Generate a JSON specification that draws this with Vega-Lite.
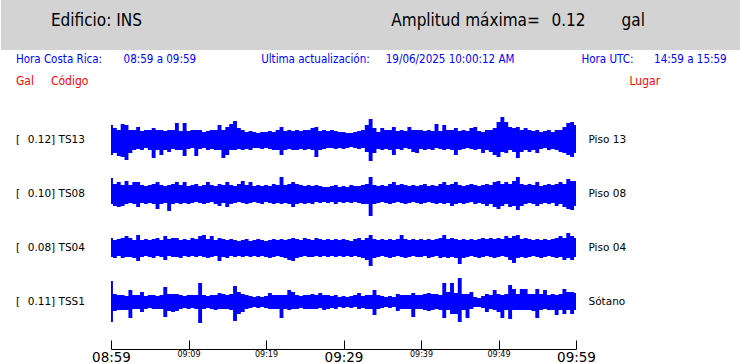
{
"$schema": "https://vega.github.io/schema/vega-lite/v6.json",
"padding": 0,
"background": "white",
"spacing": 0,
"bounds": "flush",
"config": {"view": {"stroke": null}, "text": {"font": "DejaVu Sans", "color": "#000000"}},
"resolve": {"scale": {"x": "independent", "y": "independent"}},
"datasets": {
"TS13": [
{"t":0,"h":15,"l":-15},{"t":0.5,"h":12,"l":-13},{"t":1,"h":10,"l":-16},{"t":1.5,"h":16,"l":-17},{"t":2,"h":15,"l":-20},{"t":2.5,"h":10,"l":-13},{"t":3,"h":10,"l":-10},{"t":3.5,"h":13,"l":-9},{"t":4,"h":9,"l":-10},{"t":4.5,"h":10,"l":-8},
{"t":5,"h":10,"l":-10},{"t":5.5,"h":12,"l":-18},{"t":6,"h":10,"l":-10},{"t":6.5,"h":10,"l":-15},{"t":7,"h":9,"l":-10},{"t":7.5,"h":10,"l":-12},{"t":8,"h":10,"l":-9},{"t":8.5,"h":17,"l":-10},{"t":9,"h":9,"l":-10},{"t":9.5,"h":17,"l":-16},
{"t":10,"h":9,"l":-9},{"t":10.5,"h":10,"l":-8},{"t":11,"h":10,"l":-16},{"t":11.5,"h":10,"l":-9},{"t":12,"h":8,"l":-8},{"t":12.5,"h":9,"l":-10},{"t":13,"h":10,"l":-9},{"t":13.5,"h":10,"l":-10},{"t":14,"h":15,"l":-10},{"t":14.5,"h":10,"l":-18},
{"t":15,"h":13,"l":-15},{"t":15.5,"h":16,"l":-10},{"t":16,"h":19,"l":-10},{"t":16.5,"h":12,"l":-9},{"t":17,"h":10,"l":-10},{"t":17.5,"h":8,"l":-9},{"t":18,"h":9,"l":-10},{"t":18.5,"h":8,"l":-8},{"t":19,"h":7,"l":-8},{"t":19.5,"h":8,"l":-9},
{"t":20,"h":8,"l":-8},{"t":20.5,"h":9,"l":-9},{"t":21,"h":8,"l":-10},{"t":21.5,"h":10,"l":-10},{"t":22,"h":13,"l":-15},{"t":22.5,"h":9,"l":-10},{"t":23,"h":10,"l":-9},{"t":23.5,"h":9,"l":-10},{"t":24,"h":10,"l":-10},{"t":24.5,"h":9,"l":-9},
{"t":25,"h":10,"l":-10},{"t":25.5,"h":10,"l":-9},{"t":26,"h":12,"l":-10},{"t":26.5,"h":13,"l":-17},{"t":27,"h":9,"l":-10},{"t":27.5,"h":10,"l":-9},{"t":28,"h":9,"l":-8},{"t":28.5,"h":10,"l":-8},{"t":29,"h":9,"l":-9},{"t":29.5,"h":8,"l":-8},
{"t":30,"h":8,"l":-9},{"t":30.5,"h":7,"l":-8},{"t":31,"h":7,"l":-7},{"t":31.5,"h":8,"l":-8},{"t":32,"h":9,"l":-9},{"t":32.5,"h":10,"l":-8},{"t":33,"h":15,"l":-12},{"t":33.5,"h":21,"l":-21},{"t":34,"h":12,"l":-13},{"t":34.5,"h":8,"l":-9},
{"t":35,"h":12,"l":-10},{"t":35.5,"h":10,"l":-9},{"t":36,"h":10,"l":-10},{"t":36.5,"h":13,"l":-15},{"t":37,"h":9,"l":-9},{"t":37.5,"h":10,"l":-10},{"t":38,"h":9,"l":-8},{"t":38.5,"h":13,"l":-9},{"t":39,"h":10,"l":-12},{"t":39.5,"h":10,"l":-13},
{"t":40,"h":10,"l":-9},{"t":40.5,"h":9,"l":-10},{"t":41,"h":10,"l":-9},{"t":41.5,"h":9,"l":-10},{"t":42,"h":16,"l":-8},{"t":42.5,"h":9,"l":-9},{"t":43,"h":15,"l":-10},{"t":43.5,"h":10,"l":-9},{"t":44,"h":10,"l":-10},{"t":44.5,"h":12,"l":-15},
{"t":45,"h":9,"l":-10},{"t":45.5,"h":10,"l":-9},{"t":46,"h":9,"l":-8},{"t":46.5,"h":12,"l":-9},{"t":47,"h":13,"l":-10},{"t":47.5,"h":9,"l":-9},{"t":48,"h":8,"l":-13},{"t":48.5,"h":10,"l":-10},{"t":49,"h":10,"l":-12},{"t":49.5,"h":12,"l":-15},
{"t":50,"h":18,"l":-17},{"t":50.5,"h":23,"l":-12},{"t":51,"h":18,"l":-13},{"t":51.5,"h":13,"l":-10},{"t":52,"h":12,"l":-12},{"t":52.5,"h":13,"l":-18},{"t":53,"h":10,"l":-12},{"t":53.5,"h":12,"l":-10},{"t":54,"h":10,"l":-12},{"t":54.5,"h":9,"l":-10},
{"t":55,"h":10,"l":-13},{"t":55.5,"h":8,"l":-9},{"t":56,"h":9,"l":-8},{"t":56.5,"h":10,"l":-10},{"t":57,"h":8,"l":-9},{"t":57.5,"h":10,"l":-10},{"t":58,"h":10,"l":-12},{"t":58.5,"h":13,"l":-13},{"t":59,"h":17,"l":-15},{"t":59.5,"h":18,"l":-17},
{"t":60,"h":15,"l":-13}
],
"TS08": [
{"t":0,"h":16,"l":-10},{"t":0.5,"h":10,"l":-12},{"t":1,"h":12,"l":-13},{"t":1.5,"h":9,"l":-12},{"t":2,"h":13,"l":-10},{"t":2.5,"h":9,"l":-9},{"t":3,"h":12,"l":-10},{"t":3.5,"h":12,"l":-13},{"t":4,"h":9,"l":-9},{"t":4.5,"h":8,"l":-10},
{"t":5,"h":9,"l":-9},{"t":5.5,"h":10,"l":-10},{"t":6,"h":12,"l":-15},{"t":6.5,"h":9,"l":-10},{"t":7,"h":8,"l":-9},{"t":7.5,"h":9,"l":-17},{"t":8,"h":10,"l":-10},{"t":8.5,"h":12,"l":-9},{"t":9,"h":9,"l":-10},{"t":9.5,"h":12,"l":-9},
{"t":10,"h":8,"l":-10},{"t":10.5,"h":9,"l":-9},{"t":11,"h":10,"l":-8},{"t":11.5,"h":8,"l":-9},{"t":12,"h":9,"l":-10},{"t":12.5,"h":12,"l":-9},{"t":13,"h":9,"l":-8},{"t":13.5,"h":8,"l":-10},{"t":14,"h":10,"l":-12},{"t":14.5,"h":9,"l":-9},
{"t":15,"h":12,"l":-13},{"t":15.5,"h":9,"l":-10},{"t":16,"h":8,"l":-9},{"t":16.5,"h":10,"l":-8},{"t":17,"h":13,"l":-9},{"t":17.5,"h":9,"l":-10},{"t":18,"h":12,"l":-9},{"t":18.5,"h":8,"l":-8},{"t":19,"h":9,"l":-9},{"t":19.5,"h":8,"l":-10},
{"t":20,"h":9,"l":-8},{"t":20.5,"h":8,"l":-9},{"t":21,"h":10,"l":-10},{"t":21.5,"h":9,"l":-9},{"t":22,"h":17,"l":-10},{"t":22.5,"h":9,"l":-9},{"t":23,"h":10,"l":-10},{"t":23.5,"h":12,"l":-13},{"t":24,"h":10,"l":-10},{"t":24.5,"h":9,"l":-9},
{"t":25,"h":8,"l":-10},{"t":25.5,"h":9,"l":-9},{"t":26,"h":8,"l":-10},{"t":26.5,"h":9,"l":-8},{"t":27,"h":8,"l":-9},{"t":27.5,"h":7,"l":-8},{"t":28,"h":7,"l":-9},{"t":28.5,"h":8,"l":-8},{"t":29,"h":9,"l":-10},{"t":29.5,"h":7,"l":-8},
{"t":30,"h":8,"l":-9},{"t":30.5,"h":7,"l":-8},{"t":31,"h":9,"l":-9},{"t":31.5,"h":8,"l":-8},{"t":32,"h":8,"l":-9},{"t":32.5,"h":9,"l":-10},{"t":33,"h":10,"l":-10},{"t":33.5,"h":17,"l":-22},{"t":34,"h":9,"l":-10},{"t":34.5,"h":8,"l":-9},
{"t":35,"h":9,"l":-8},{"t":35.5,"h":8,"l":-9},{"t":36,"h":10,"l":-10},{"t":36.5,"h":12,"l":-9},{"t":37,"h":9,"l":-8},{"t":37.5,"h":10,"l":-9},{"t":38,"h":9,"l":-10},{"t":38.5,"h":8,"l":-9},{"t":39,"h":9,"l":-8},{"t":39.5,"h":8,"l":-9},
{"t":40,"h":9,"l":-10},{"t":40.5,"h":10,"l":-9},{"t":41,"h":8,"l":-8},{"t":41.5,"h":9,"l":-9},{"t":42,"h":8,"l":-10},{"t":42.5,"h":10,"l":-9},{"t":43,"h":12,"l":-10},{"t":43.5,"h":9,"l":-9},{"t":44,"h":10,"l":-12},{"t":44.5,"h":12,"l":-10},
{"t":45,"h":9,"l":-9},{"t":45.5,"h":8,"l":-10},{"t":46,"h":9,"l":-9},{"t":46.5,"h":10,"l":-8},{"t":47,"h":9,"l":-10},{"t":47.5,"h":8,"l":-9},{"t":48,"h":9,"l":-10},{"t":48.5,"h":10,"l":-12},{"t":49,"h":9,"l":-10},{"t":49.5,"h":12,"l":-13},
{"t":50,"h":13,"l":-15},{"t":50.5,"h":10,"l":-12},{"t":51,"h":12,"l":-10},{"t":51.5,"h":10,"l":-13},{"t":52,"h":13,"l":-12},{"t":52.5,"h":17,"l":-16},{"t":53,"h":10,"l":-12},{"t":53.5,"h":9,"l":-10},{"t":54,"h":10,"l":-9},{"t":54.5,"h":9,"l":-10},
{"t":55,"h":12,"l":-12},{"t":55.5,"h":8,"l":-10},{"t":56,"h":9,"l":-9},{"t":56.5,"h":10,"l":-10},{"t":57,"h":9,"l":-9},{"t":57.5,"h":10,"l":-12},{"t":58,"h":12,"l":-10},{"t":58.5,"h":10,"l":-13},{"t":59,"h":15,"l":-15},{"t":59.5,"h":13,"l":-16},
{"t":60,"h":13,"l":-12}
],
"TS04": [
{"t":0,"h":10,"l":-9},{"t":0.5,"h":8,"l":-10},{"t":1,"h":9,"l":-8},{"t":1.5,"h":10,"l":-10},{"t":2,"h":12,"l":-9},{"t":2.5,"h":10,"l":-9},{"t":3,"h":8,"l":-10},{"t":3.5,"h":13,"l":-13},{"t":4,"h":8,"l":-9},{"t":4.5,"h":9,"l":-8},
{"t":5,"h":8,"l":-9},{"t":5.5,"h":9,"l":-10},{"t":6,"h":10,"l":-8},{"t":6.5,"h":8,"l":-9},{"t":7,"h":12,"l":-12},{"t":7.5,"h":9,"l":-8},{"t":8,"h":10,"l":-9},{"t":8.5,"h":10,"l":-9},{"t":9,"h":8,"l":-10},{"t":9.5,"h":9,"l":-8},
{"t":10,"h":8,"l":-9},{"t":10.5,"h":10,"l":-8},{"t":11,"h":9,"l":-9},{"t":11.5,"h":12,"l":-8},{"t":12,"h":13,"l":-9},{"t":12.5,"h":9,"l":-10},{"t":13,"h":12,"l":-9},{"t":13.5,"h":8,"l":-8},{"t":14,"h":10,"l":-13},{"t":14.5,"h":9,"l":-9},
{"t":15,"h":8,"l":-10},{"t":15.5,"h":9,"l":-8},{"t":16,"h":8,"l":-9},{"t":16.5,"h":7,"l":-8},{"t":17,"h":8,"l":-9},{"t":17.5,"h":9,"l":-8},{"t":18,"h":7,"l":-9},{"t":18.5,"h":8,"l":-8},{"t":19,"h":9,"l":-9},{"t":19.5,"h":8,"l":-8},
{"t":20,"h":7,"l":-9},{"t":20.5,"h":8,"l":-10},{"t":21,"h":9,"l":-9},{"t":21.5,"h":8,"l":-8},{"t":22,"h":9,"l":-9},{"t":22.5,"h":8,"l":-10},{"t":23,"h":9,"l":-12},{"t":23.5,"h":10,"l":-13},{"t":24,"h":9,"l":-10},{"t":24.5,"h":8,"l":-9},
{"t":25,"h":10,"l":-8},{"t":25.5,"h":9,"l":-9},{"t":26,"h":8,"l":-9},{"t":26.5,"h":10,"l":-8},{"t":27,"h":9,"l":-9},{"t":27.5,"h":8,"l":-8},{"t":28,"h":9,"l":-9},{"t":28.5,"h":8,"l":-8},{"t":29,"h":9,"l":-9},{"t":29.5,"h":8,"l":-8},
{"t":30,"h":9,"l":-9},{"t":30.5,"h":8,"l":-8},{"t":31,"h":7,"l":-9},{"t":31.5,"h":9,"l":-8},{"t":32,"h":10,"l":-9},{"t":32.5,"h":8,"l":-10},{"t":33,"h":10,"l":-12},{"t":33.5,"h":13,"l":-18},{"t":34,"h":9,"l":-10},{"t":34.5,"h":8,"l":-9},
{"t":35,"h":9,"l":-8},{"t":35.5,"h":8,"l":-9},{"t":36,"h":9,"l":-10},{"t":36.5,"h":8,"l":-9},{"t":37,"h":9,"l":-8},{"t":37.5,"h":13,"l":-9},{"t":38,"h":9,"l":-10},{"t":38.5,"h":8,"l":-9},{"t":39,"h":9,"l":-8},{"t":39.5,"h":8,"l":-9},
{"t":40,"h":9,"l":-9},{"t":40.5,"h":8,"l":-8},{"t":41,"h":9,"l":-10},{"t":41.5,"h":8,"l":-9},{"t":42,"h":9,"l":-8},{"t":42.5,"h":10,"l":-10},{"t":43,"h":13,"l":-9},{"t":43.5,"h":9,"l":-10},{"t":44,"h":10,"l":-9},{"t":44.5,"h":9,"l":-10},
{"t":45,"h":8,"l":-16},{"t":45.5,"h":9,"l":-10},{"t":46,"h":8,"l":-9},{"t":46.5,"h":9,"l":-8},{"t":47,"h":8,"l":-9},{"t":47.5,"h":9,"l":-10},{"t":48,"h":10,"l":-9},{"t":48.5,"h":9,"l":-8},{"t":49,"h":10,"l":-9},{"t":49.5,"h":9,"l":-10},
{"t":50,"h":10,"l":-9},{"t":50.5,"h":9,"l":-8},{"t":51,"h":12,"l":-9},{"t":51.5,"h":10,"l":-12},{"t":52,"h":12,"l":-15},{"t":52.5,"h":13,"l":-10},{"t":53,"h":9,"l":-9},{"t":53.5,"h":10,"l":-10},{"t":54,"h":9,"l":-9},{"t":54.5,"h":8,"l":-8},
{"t":55,"h":9,"l":-9},{"t":55.5,"h":8,"l":-10},{"t":56,"h":9,"l":-9},{"t":56.5,"h":8,"l":-8},{"t":57,"h":9,"l":-9},{"t":57.5,"h":10,"l":-10},{"t":58,"h":12,"l":-9},{"t":58.5,"h":10,"l":-12},{"t":59,"h":15,"l":-10},{"t":59.5,"h":12,"l":-12},
{"t":60,"h":10,"l":-9}
],
"TSS1": [
{"t":0,"h":21,"l":-20},{"t":0.5,"h":8,"l":-9},{"t":1,"h":7,"l":-8},{"t":1.5,"h":7,"l":-8},{"t":2,"h":6,"l":-8},{"t":2.5,"h":12,"l":-16},{"t":3,"h":7,"l":-7},{"t":3.5,"h":7,"l":-7},{"t":4,"h":10,"l":-10},{"t":4.5,"h":6,"l":-7},
{"t":5,"h":7,"l":-6},{"t":5.5,"h":7,"l":-7},{"t":6,"h":6,"l":-7},{"t":6.5,"h":7,"l":-7},{"t":7,"h":15,"l":-15},{"t":7.5,"h":8,"l":-9},{"t":8,"h":8,"l":-10},{"t":8.5,"h":8,"l":-9},{"t":9,"h":7,"l":-7},{"t":9.5,"h":6,"l":-6},
{"t":10,"h":7,"l":-7},{"t":10.5,"h":7,"l":-6},{"t":11,"h":7,"l":-7},{"t":11.5,"h":19,"l":-21},{"t":12,"h":7,"l":-7},{"t":12.5,"h":6,"l":-6},{"t":13,"h":7,"l":-7},{"t":13.5,"h":7,"l":-8},{"t":14,"h":9,"l":-7},{"t":14.5,"h":8,"l":-7},
{"t":15,"h":7,"l":-7},{"t":15.5,"h":8,"l":-8},{"t":16,"h":16,"l":-19},{"t":16.5,"h":10,"l":-12},{"t":17,"h":8,"l":-10},{"t":17.5,"h":7,"l":-7},{"t":18,"h":6,"l":-6},{"t":18.5,"h":5,"l":-5},{"t":19,"h":6,"l":-6},{"t":19.5,"h":5,"l":-5},
{"t":20,"h":6,"l":-6},{"t":20.5,"h":9,"l":-7},{"t":21,"h":7,"l":-7},{"t":21.5,"h":7,"l":-7},{"t":22,"h":7,"l":-16},{"t":22.5,"h":7,"l":-7},{"t":23,"h":12,"l":-8},{"t":23.5,"h":10,"l":-7},{"t":24,"h":7,"l":-7},{"t":24.5,"h":6,"l":-6},
{"t":25,"h":7,"l":-7},{"t":25.5,"h":7,"l":-7},{"t":26,"h":8,"l":-7},{"t":26.5,"h":7,"l":-7},{"t":27,"h":9,"l":-6},{"t":27.5,"h":7,"l":-8},{"t":28,"h":7,"l":-7},{"t":28.5,"h":6,"l":-6},{"t":29,"h":7,"l":-7},{"t":29.5,"h":5,"l":-5},
{"t":30,"h":6,"l":-6},{"t":30.5,"h":5,"l":-5},{"t":31,"h":6,"l":-6},{"t":31.5,"h":7,"l":-5},{"t":32,"h":9,"l":-7},{"t":32.5,"h":6,"l":-6},{"t":33,"h":7,"l":-7},{"t":33.5,"h":7,"l":-7},{"t":34,"h":12,"l":-13},{"t":34.5,"h":7,"l":-7},
{"t":35,"h":6,"l":-6},{"t":35.5,"h":5,"l":-5},{"t":36,"h":6,"l":-6},{"t":36.5,"h":5,"l":-5},{"t":37,"h":8,"l":-9},{"t":37.5,"h":7,"l":-7},{"t":38,"h":7,"l":-7},{"t":38.5,"h":7,"l":-7},{"t":39,"h":9,"l":-15},{"t":39.5,"h":7,"l":-7},
{"t":40,"h":7,"l":-7},{"t":40.5,"h":8,"l":-8},{"t":41,"h":9,"l":-9},{"t":41.5,"h":8,"l":-8},{"t":42,"h":8,"l":-7},{"t":42.5,"h":7,"l":-8},{"t":43,"h":19,"l":-16},{"t":43.5,"h":10,"l":-8},{"t":44,"h":19,"l":-12},{"t":44.5,"h":9,"l":-12},
{"t":45,"h":24,"l":-20},{"t":45.5,"h":8,"l":-8},{"t":46,"h":8,"l":-16},{"t":46.5,"h":10,"l":-7},{"t":47,"h":5,"l":-5},{"t":47.5,"h":4,"l":-5},{"t":48,"h":6,"l":-6},{"t":48.5,"h":8,"l":-10},{"t":49,"h":7,"l":-7},{"t":49.5,"h":12,"l":-8},
{"t":50,"h":8,"l":-10},{"t":50.5,"h":7,"l":-16},{"t":51,"h":8,"l":-8},{"t":51.5,"h":17,"l":-17},{"t":52,"h":13,"l":-8},{"t":52.5,"h":8,"l":-8},{"t":53,"h":13,"l":-8},{"t":53.5,"h":13,"l":-8},{"t":54,"h":8,"l":-8},{"t":54.5,"h":8,"l":-9},
{"t":55,"h":13,"l":-16},{"t":55.5,"h":8,"l":-8},{"t":56,"h":12,"l":-7},{"t":56.5,"h":7,"l":-8},{"t":57,"h":8,"l":-8},{"t":57.5,"h":7,"l":-13},{"t":58,"h":8,"l":-8},{"t":58.5,"h":13,"l":-12},{"t":59,"h":10,"l":-8},{"t":59.5,"h":10,"l":-12},
{"t":60,"h":9,"l":-8}
]
},
"vconcat": [
{
"width": 465, "height": 113,
"data": {"values": [{}]},
"layer": [
{"mark": {"type": "rect", "color": "#d3d3d3"},
 "encoding": {"x": {"datum": -14.209, "type": "quantitative", "scale": {"domain": [0, 60], "nice": false, "zero": false}, "axis": null}, "x2": {"datum": 81.378},
  "y": {"datum": 0, "type": "quantitative", "scale": {"domain": [0, 113], "reverse": true, "nice": false, "zero": false}, "axis": null}, "y2": {"datum": 50}}},
{"mark": {"type": "text", "text": "Edificio: INS", "align": "left", "baseline": "middle", "font": "DejaVu Sans Condensed", "fontSize": 17, "color": "#000000"}, "encoding": {"x": {"datum": -7.75}, "y": {"datum": 21}}},
{"mark": {"type": "text", "text": "Amplitud máxima=", "align": "left", "baseline": "middle", "font": "DejaVu Sans Condensed", "fontSize": 17, "color": "#000000"}, "encoding": {"x": {"datum": 36.168}, "y": {"datum": 21}}},
{"mark": {"type": "text", "text": "0.12", "align": "left", "baseline": "middle", "font": "DejaVu Sans Condensed", "fontSize": 17, "color": "#000000"}, "encoding": {"x": {"datum": 56.835}, "y": {"datum": 21}}},
{"mark": {"type": "text", "text": "gal", "align": "left", "baseline": "middle", "font": "DejaVu Sans Condensed", "fontSize": 17, "color": "#000000"}, "encoding": {"x": {"datum": 65.877}, "y": {"datum": 21}}},
{"mark": {"type": "text", "text": "Hora Costa Rica:", "align": "left", "baseline": "middle", "font": "DejaVu Sans Condensed", "fontSize": 11.5, "color": "#0000ff"}, "encoding": {"x": {"datum": -12.271}, "y": {"datum": 60}}},
{"mark": {"type": "text", "text": "08:59 a 09:59", "align": "right", "baseline": "middle", "font": "DejaVu Sans Condensed", "fontSize": 11.5, "color": "#0000ff"}, "encoding": {"x": {"datum": 10.98}, "y": {"datum": 60}}},
{"mark": {"type": "text", "text": "Ultima actualización:", "align": "left", "baseline": "middle", "font": "DejaVu Sans Condensed", "fontSize": 11.5, "color": "#0000ff"}, "encoding": {"x": {"datum": 19.376}, "y": {"datum": 60}}},
{"mark": {"type": "text", "text": "19/06/2025 10:00:12 AM", "align": "right", "baseline": "middle", "font": "DejaVu Sans Condensed", "fontSize": 11.5, "color": "#0000ff"}, "encoding": {"x": {"datum": 52.056}, "y": {"datum": 60}}},
{"mark": {"type": "text", "text": "Hora UTC:", "align": "left", "baseline": "middle", "font": "DejaVu Sans Condensed", "fontSize": 11.5, "color": "#0000ff"}, "encoding": {"x": {"datum": 60.71}, "y": {"datum": 60}}},
{"mark": {"type": "text", "text": "14:59 a 15:59", "align": "right", "baseline": "middle", "font": "DejaVu Sans Condensed", "fontSize": 11.5, "color": "#0000ff"}, "encoding": {"x": {"datum": 79.44}, "y": {"datum": 60}}},
{"mark": {"type": "text", "text": "Gal", "align": "left", "baseline": "middle", "font": "DejaVu Sans Condensed", "fontSize": 12, "color": "#ff0000"}, "encoding": {"x": {"datum": -12.271}, "y": {"datum": 81}}},
{"mark": {"type": "text", "text": "Código", "align": "left", "baseline": "middle", "font": "DejaVu Sans Condensed", "fontSize": 12, "color": "#ff0000"}, "encoding": {"x": {"datum": -7.75}, "y": {"datum": 81}}},
{"mark": {"type": "text", "text": "Lugar", "align": "left", "baseline": "middle", "font": "DejaVu Sans Condensed", "fontSize": 12, "color": "#ff0000"}, "encoding": {"x": {"datum": 66.911}, "y": {"datum": 81}}}
]
},
{
"width": 465, "height": 54,
"layer": [
{"data": {"name": "TS13"}, "mark": {"type": "area", "interpolate": "step", "color": "#0000ff"},
 "encoding": {"x": {"field": "t", "type": "quantitative", "scale": {"domain": [0, 60], "nice": false, "zero": false}, "axis": null},
  "y": {"field": "h", "type": "quantitative", "scale": {"domain": [-27, 27], "nice": false}, "axis": null}, "y2": {"field": "l"}}},
{"data": {"values": [{}]}, "mark": {"type": "text", "text": "[", "align": "left", "baseline": "middle", "fontSize": 10.5}, "encoding": {"x": {"datum": -12.271}, "y": {"datum": 0}}},
{"data": {"values": [{}]}, "mark": {"type": "text", "text": "0.12] TS13", "align": "right", "baseline": "middle", "fontSize": 10.5}, "encoding": {"x": {"datum": -3.358}, "y": {"datum": 0}}},
{"data": {"values": [{}]}, "mark": {"type": "text", "text": "Piso 13", "align": "left", "baseline": "middle", "fontSize": 10.5}, "encoding": {"x": {"datum": 61.614}, "y": {"datum": 0}}}
]
},
{
"width": 465, "height": 54,
"layer": [
{"data": {"name": "TS08"}, "mark": {"type": "area", "interpolate": "step", "color": "#0000ff"},
 "encoding": {"x": {"field": "t", "type": "quantitative", "scale": {"domain": [0, 60], "nice": false, "zero": false}, "axis": null},
  "y": {"field": "h", "type": "quantitative", "scale": {"domain": [-27, 27], "nice": false}, "axis": null}, "y2": {"field": "l"}}},
{"data": {"values": [{}]}, "mark": {"type": "text", "text": "[", "align": "left", "baseline": "middle", "fontSize": 10.5}, "encoding": {"x": {"datum": -12.271}, "y": {"datum": 0}}},
{"data": {"values": [{}]}, "mark": {"type": "text", "text": "0.10] TS08", "align": "right", "baseline": "middle", "fontSize": 10.5}, "encoding": {"x": {"datum": -3.358}, "y": {"datum": 0}}},
{"data": {"values": [{}]}, "mark": {"type": "text", "text": "Piso 08", "align": "left", "baseline": "middle", "fontSize": 10.5}, "encoding": {"x": {"datum": 61.614}, "y": {"datum": 0}}}
]
},
{
"width": 465, "height": 54,
"layer": [
{"data": {"name": "TS04"}, "mark": {"type": "area", "interpolate": "step", "color": "#0000ff"},
 "encoding": {"x": {"field": "t", "type": "quantitative", "scale": {"domain": [0, 60], "nice": false, "zero": false}, "axis": null},
  "y": {"field": "h", "type": "quantitative", "scale": {"domain": [-27, 27], "nice": false}, "axis": null}, "y2": {"field": "l"}}},
{"data": {"values": [{}]}, "mark": {"type": "text", "text": "[", "align": "left", "baseline": "middle", "fontSize": 10.5}, "encoding": {"x": {"datum": -12.271}, "y": {"datum": 0}}},
{"data": {"values": [{}]}, "mark": {"type": "text", "text": "0.08] TS04", "align": "right", "baseline": "middle", "fontSize": 10.5}, "encoding": {"x": {"datum": -3.358}, "y": {"datum": 0}}},
{"data": {"values": [{}]}, "mark": {"type": "text", "text": "Piso 04", "align": "left", "baseline": "middle", "fontSize": 10.5}, "encoding": {"x": {"datum": 61.614}, "y": {"datum": 0}}}
]
},
{
"width": 465, "height": 54,
"layer": [
{"data": {"name": "TSS1"}, "mark": {"type": "area", "interpolate": "step", "color": "#0000ff"},
 "encoding": {"x": {"field": "t", "type": "quantitative", "scale": {"domain": [0, 60], "nice": false, "zero": false},
   "axis": {"values": [0,5,10,15,20,25,30,35,40,45,50,55,60], "title": null, "grid": false, "offset": 20, "tickSize": -9, "labelPadding": 10,
    "domainColor": "#000000", "tickColor": "#000000", "domainWidth": 1, "tickWidth": 1, "labelColor": "#000000", "labelFont": "DejaVu Sans",
    "labelFlush": false, "labelOverlap": false, "labelBaseline": "top",
    "labelFontSize": {"condition": {"test": "datum.value % 30 == 0", "value": 13.5}, "value": 8},
    "labelExpr": "datum.value % 10 ? '' : '0' + floor((539 + datum.value) / 60) + ':' + (((539 + datum.value) % 60) < 10 ? '0' : '') + ((539 + datum.value) % 60)"}},
  "y": {"field": "h", "type": "quantitative", "scale": {"domain": [-27, 27], "nice": false}, "axis": null}, "y2": {"field": "l"}}},
{"data": {"values": [{}]}, "mark": {"type": "text", "text": "[", "align": "left", "baseline": "middle", "fontSize": 10.5}, "encoding": {"x": {"datum": -12.271}, "y": {"datum": 0}}},
{"data": {"values": [{}]}, "mark": {"type": "text", "text": "0.11] TSS1", "align": "right", "baseline": "middle", "fontSize": 10.5}, "encoding": {"x": {"datum": -3.358}, "y": {"datum": 0}}},
{"data": {"values": [{}]}, "mark": {"type": "text", "text": "Sótano", "align": "left", "baseline": "middle", "fontSize": 10.5}, "encoding": {"x": {"datum": 61.614}, "y": {"datum": 0}}}
]
}
]
}
